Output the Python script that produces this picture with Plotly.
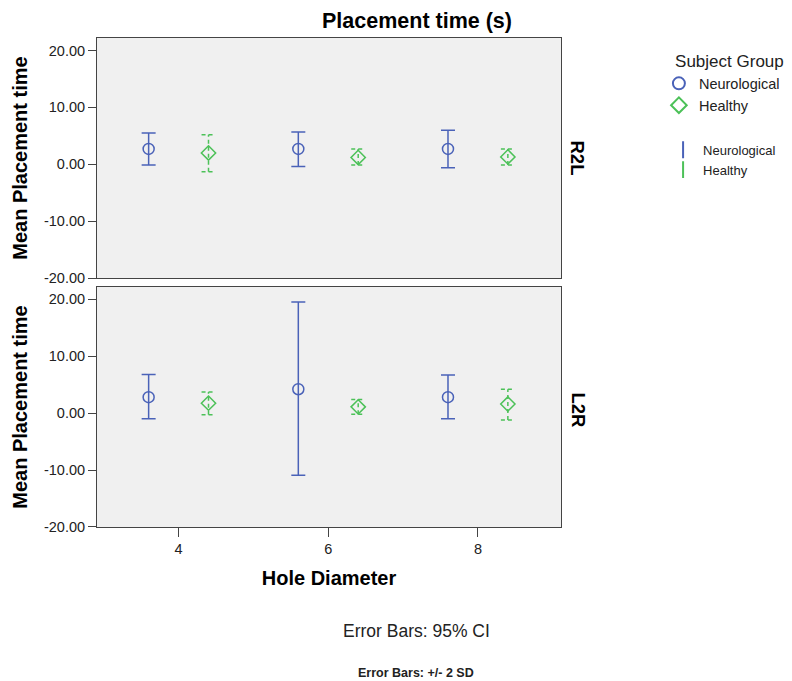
import plotly.graph_objects as go

# ---- data ----
hole_diameter = [4, 6, 8]
x_ticks = [4, 6, 8]
y_ticks = [-20, -10, 0, 10, 20]
y_tick_labels = ["-20.00", "-10.00", "0.00", "10.00", "20.00"]
groups = ["Neurological", "Healthy"]
panels = ["R2L", "L2R"]

neuro_mean_r2l = [2.7, 2.7, 2.7]
neuro_hi_r2l = [5.5, 5.7, 6.0]
neuro_lo_r2l = [-0.1, -0.4, -0.6]
healthy_mean_r2l = [2.0, 1.2, 1.3]
healthy_hi_r2l = [5.2, 2.7, 2.7]
healthy_lo_r2l = [-1.3, -0.1, -0.1]

neuro_mean_l2r = [2.8, 4.2, 2.8]
neuro_hi_l2r = [6.8, 19.5, 6.7]
neuro_lo_l2r = [-1.0, -10.9, -1.0]
healthy_mean_l2r = [1.75, 1.1, 1.6]
healthy_hi_l2r = [3.7, 2.4, 4.2]
healthy_lo_l2r = [-0.3, -0.2, -1.2]

# ---- style ----
DODGE = 0.4
CAP = 0.093
BLUE = "#4a62b8"
GREEN = "#4cc158"
FONT = "Liberation Sans"

fig = go.Figure()

panel_data = [
    ("y", (neuro_mean_r2l, neuro_hi_r2l, neuro_lo_r2l), (healthy_mean_r2l, healthy_hi_r2l, healthy_lo_r2l)),
    ("y2", (neuro_mean_l2r, neuro_hi_l2r, neuro_lo_l2r), (healthy_mean_l2r, healthy_hi_l2r, healthy_lo_l2r)),
]

for i, (yref, neuro, healthy) in enumerate(panel_data):
    xa = "x" if i == 0 else "x2"
    nm, nh, nl = neuro
    hm, hh, hl = healthy
    xn = [h - DODGE for h in hole_diameter]
    xh = [h + DODGE for h in hole_diameter]
    # neurological: solid error bars
    fig.add_trace(go.Scatter(
        x=xn, y=nm, mode="markers", xaxis=xa, yaxis=yref, showlegend=False,
        marker=dict(symbol="circle-open", size=11, color=BLUE, line=dict(width=1.5)),
        error_y=dict(type="data", symmetric=False,
                     array=[h - m for h, m in zip(nh, nm)],
                     arrayminus=[m - l for m, l in zip(nm, nl)],
                     color=BLUE, thickness=1.5, width=7),
        hoverinfo="skip"))
    # healthy: dashed error bars drawn as lines
    lx, ly = [], []
    for x, hi, lo in zip(xh, hh, hl):
        lx += [x, x, None, x - CAP, x + CAP, None, x - CAP, x + CAP, None]
        ly += [lo, hi, None, hi, hi, None, lo, lo, None]
    fig.add_trace(go.Scatter(
        x=lx, y=ly, mode="lines", xaxis=xa, yaxis=yref, showlegend=False,
        line=dict(color=GREEN, width=1.5, dash="4px,3px"), hoverinfo="skip"))
    fig.add_trace(go.Scatter(
        x=xh, y=hm, mode="markers", xaxis=xa, yaxis=yref, showlegend=False,
        marker=dict(symbol="diamond-open", size=11, color=GREEN, line=dict(width=1.5))))

# legend entries
fig.add_trace(go.Scatter(x=[None], y=[None], mode="markers", name=groups[0], legend="legend",
                         marker=dict(symbol="circle-open", size=13, color=BLUE, line=dict(width=1.5))))
fig.add_trace(go.Scatter(x=[None], y=[None], mode="markers", name=groups[1], legend="legend",
                         marker=dict(symbol="diamond-open", size=13, color=GREEN, line=dict(width=1.5))))
fig.add_trace(go.Scatter(x=[None], y=[None], mode="markers", name=groups[0], legend="legend2",
                         marker=dict(symbol="line-ns-open", size=10, color=BLUE, line=dict(width=1.5, color=BLUE))))
fig.add_trace(go.Scatter(x=[None], y=[None], mode="markers", name=groups[1], legend="legend2",
                         marker=dict(symbol="line-ns-open", size=10, color=GREEN, line=dict(width=1.5, color=GREEN))))

axis_common = dict(showline=True, linecolor="#444444", linewidth=1, mirror=True,
                   showgrid=False, zeroline=False, ticks="outside", tickcolor="#444444",
                   tickfont=dict(family=FONT, size=14.5, color="#222222"))

fig.update_layout(
    width=784, height=673,
    margin=dict(l=89, r=231, t=30, b=154, autoexpand=False),
    paper_bgcolor="white", plot_bgcolor="#f0f0f0",
    font=dict(family=FONT, color="#000000"),
    xaxis=dict(domain=[0, 1], anchor="y", range=[2.91, 9.11], tickvals=x_ticks,
               showticklabels=False, ticklen=0, **{k: v for k, v in axis_common.items() if k != "ticks"}),
    yaxis=dict(domain=[0.509, 1], anchor="x", range=[-20, 22.2], tickvals=y_ticks,
               ticktext=y_tick_labels, ticklen=8,
               title=dict(text="<b>Mean Placement time</b>", font=dict(family=FONT, size=20), standoff=10),
               **axis_common),
    xaxis2=dict(domain=[0, 1], anchor="y2", range=[2.91, 9.11], tickvals=x_ticks, ticklen=9,
                title=dict(text="<b>Hole Diameter</b>", font=dict(family=FONT, size=20), standoff=14),
                **axis_common),
    yaxis2=dict(domain=[0, 0.4908], anchor="x2", range=[-20, 22.15], tickvals=y_ticks,
                ticktext=y_tick_labels, ticklen=8,
                title=dict(text="<b>Mean Placement time</b>", font=dict(family=FONT, size=20), standoff=10),
                **axis_common),
    legend=dict(x=1.211, y=0.985, xanchor="left", yanchor="top",
                title=dict(text="&nbsp;&nbsp;&nbsp;Subject Group", font=dict(family=FONT, size=17, color="#222222")),
                font=dict(family=FONT, size=14.5, color="#222222"), bgcolor="rgba(0,0,0,0)",
                itemsizing="constant", tracegroupgap=0),
    legend2=dict(x=1.220, y=0.802, xanchor="left", yanchor="top",
                 font=dict(family=FONT, size=13, color="#222222"), bgcolor="rgba(0,0,0,0)",
                 itemsizing="constant"),
    annotations=[
        dict(text="<b>Placement time (s)</b>", x=0.6886, y=1.0348, xref="paper", yref="paper",
             showarrow=False, font=dict(family=FONT, size=21.5), xanchor="center", yanchor="middle"),
        dict(text="<b>" + panels[0] + "</b>", x=1.0356, y=0.7546, xref="paper", yref="paper",
             showarrow=False, textangle=90, font=dict(family=FONT, size=18.5), xanchor="center", yanchor="middle"),
        dict(text="<b>" + panels[1] + "</b>", x=1.0356, y=0.2393, xref="paper", yref="paper",
             showarrow=False, textangle=90, font=dict(family=FONT, size=18.5), xanchor="center", yanchor="middle"),
        dict(text="Error Bars: 95% CI", x=0.6875, y=-0.2127, xref="paper", yref="paper",
             showarrow=False, font=dict(family=FONT, size=17.5, color="#222222"), xanchor="center", yanchor="middle"),
        dict(text="<b>Error Bars: +/- 2 SD</b>", x=0.6875, y=-0.2986, xref="paper", yref="paper",
             showarrow=False, font=dict(family=FONT, size=12.5, color="#222222"), xanchor="center", yanchor="middle"),
    ],
)

fig.write_html("out.html")
